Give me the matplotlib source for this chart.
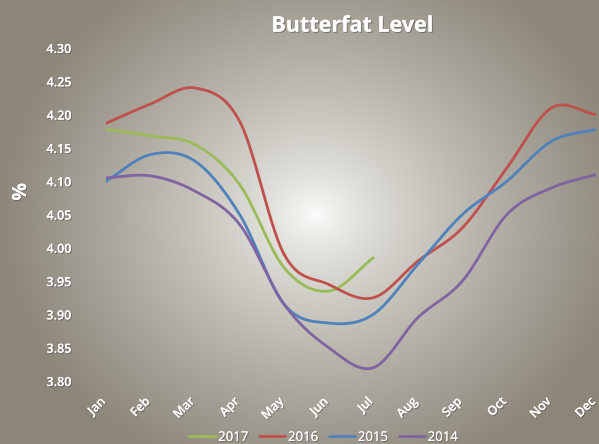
import numpy as np
import matplotlib
matplotlib.use("Agg")
import matplotlib.pyplot as plt
import matplotlib.patheffects as pe
import matplotlib.transforms as mtransforms

months = ["Jan", "Feb", "Mar", "Apr", "May", "Jun", "Jul", "Aug", "Sep", "Oct", "Nov", "Dec"]
y2017 = [4.178, 4.168, 4.155, 4.095, 3.97, 3.935, 3.985]
y2016 = [4.187, 4.216, 4.24, 4.19, 3.99, 3.945, 3.925, 3.98, 4.03, 4.12, 4.21, 4.20]
y2015 = [4.10, 4.14, 4.13, 4.05, 3.915, 3.887, 3.90, 3.975, 4.05, 4.10, 4.16, 4.178]
y2014 = [4.105, 4.108, 4.085, 4.035, 3.915, 3.85, 3.82, 3.895, 3.95, 4.05, 4.09, 4.11]
series = [("2017", y2017, "#9bbb59"), ("2016", y2016, "#c0504d"),
          ("2015", y2015, "#4f81bd"), ("2014", y2014, "#8064a2")]


def smooth(x, y, n=30):
    # catmull-rom curve through the points (like excel's smoothed line)
    x = np.asarray(x, float)
    y = np.asarray(y, float)
    px = np.concatenate([[2 * x[0] - x[1]], x, [2 * x[-1] - x[-2]]])
    py = np.concatenate([[2 * y[0] - y[1]], y, [2 * y[-1] - y[-2]]])
    xs, ys = [], []
    t = np.linspace(0, 1, n)
    for i in range(1, len(px) - 2):
        for p, out in ((px, xs), (py, ys)):
            p0, p1, p2, p3 = p[i - 1], p[i], p[i + 1], p[i + 2]
            out.extend(0.5 * (2 * p1 + (-p0 + p2) * t
                              + (2 * p0 - 5 * p1 + 4 * p2 - p3) * t ** 2
                              + (-p0 + 3 * p1 - 3 * p2 + p3) * t ** 3))
    return xs, ys


fig = plt.figure(figsize=(5.99, 4.44), dpi=100)

# radial gradient background
bg = fig.add_axes([0, 0, 1, 1])
gx, gy = np.meshgrid(np.linspace(0, 599, 300), np.linspace(0, 444, 222))
r = np.sqrt(((gx - 315) / 320) ** 2 + ((gy - 215) / 280) ** 2)
r = np.clip(r, 0, 1) ** 0.75
inner = np.array([253, 253, 251]) / 255
outer = np.array([140, 134, 121]) / 255
img = inner[None, None, :] * (1 - r[..., None]) + outer[None, None, :] * r[..., None]
bg.imshow(img, extent=[0, 599, 444, 0], aspect="auto")
bg.set_xlim(0, 599)
bg.set_ylim(444, 0)
bg.axis("off")

ax = fig.add_axes([106 / 599, 1 - 381 / 444, 490 / 599, 333 / 444])
ax.patch.set_alpha(0)
for name, vals, col in series:
    sx, sy = smooth(range(len(vals)), vals)
    ax.plot(sx, sy, color=col, lw=2.0, label=name, solid_capstyle="round")

ax.set_xlim(0, 11)
ax.set_ylim(3.80, 4.30)
ax.set_yticks(np.arange(3.80, 4.301, 0.05))
ax.set_yticklabels([f"{v:.2f}" for v in np.arange(3.80, 4.301, 0.05)])
ax.set_xticks(range(12))
ax.set_xticklabels(months, rotation=45, ha="right", va="top", rotation_mode="anchor")
for s in ax.spines.values():
    s.set_visible(False)
ax.tick_params(length=0, colors="white")
ax.tick_params(axis="y", pad=25)
ax.tick_params(axis="x", pad=10)

shadow = [pe.withSimplePatchShadow(offset=(0.8, -0.8), shadow_rgbFace="#555555", alpha=0.6), pe.Normal()]
shift = mtransforms.ScaledTranslation(-7 / 100, 0, fig.dpi_scale_trans)
for lab in ax.get_xticklabels():
    lab.set_transform(lab.get_transform() + shift)
for lab in ax.get_xticklabels() + ax.get_yticklabels():
    lab.set_fontfamily("Open Sans")
    lab.set_fontsize(9)
    lab.set_fontweight("semibold")
    lab.set_path_effects(shadow)

fig.text(0.588, 0.941, "Butterfat Level", color="white", fontsize=15.5, fontweight="bold",
         family="Open Sans", ha="center", va="center", path_effects=shadow)
fig.text(0.035, 0.568, "%", color="white", fontsize=14, fontweight="bold",
         family="Open Sans", ha="center", va="center", rotation=90, path_effects=shadow)

leg = fig.legend(loc="center", bbox_to_anchor=(0.54, 0.015), ncol=4, frameon=False,
                 handlelength=2.0, handletextpad=0.2, columnspacing=0.8,
                 prop={"family": "Open Sans", "size": 9.5})
for t in leg.get_texts():
    t.set_color("white")
    t.set_path_effects(shadow)

fig.savefig("out.png", dpi=100)
